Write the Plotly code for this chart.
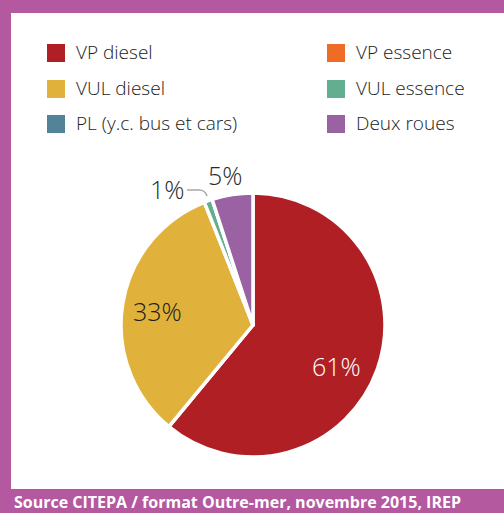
import plotly.graph_objects as go

W, H = 504, 513

labels = ["VP diesel", "VP essence", "VUL diesel", "VUL essence", "PL (y.c. bus et cars)", "Deux roues"]
values = [61, 0, 33, 1, 0, 5]
colors = ["#b01f24", "#ef6c27", "#e1b23b", "#63ad90", "#538397", "#9a62a2"]
label_colors = ["white", "white", "#1c1c1c", "#2a2a2a", "#2a2a2a", "#2a2a2a"]
# where each percentage sits (pixels from top-left), None for empty slices
label_pos = [(336, 366), None, (157, 311), (167, 189), None, (225, 175)]
source = "Source CITEPA / format Outre-mer, novembre 2015, IREP"

FRAME = "#b4589f"
FONT = "Open Sans"


def px(x):
    return x / W


def py(y):
    return 1 - y / H


fig = go.Figure()
fig.add_trace(go.Pie(
    labels=labels,
    values=values,
    sort=False,
    direction="clockwise",
    rotation=0,
    marker={"colors": colors, "line": {"color": "white", "width": 3.5}},
    textinfo="none",
    domain={"x": [px(121), px(385)], "y": [py(457), py(193)]},
    showlegend=False,
    hoverinfo="label+percent",
))

shapes = [
    # purple frame (top band, left edge, bottom band)
    {"type": "rect", "x0": 0, "x1": 1, "y0": py(13), "y1": 1},
    {"type": "rect", "x0": 0, "x1": px(11), "y0": 0, "y1": 1},
    {"type": "rect", "x0": 0, "x1": 1, "y0": 0, "y1": py(489)},
]
for s in shapes:
    s.update({"xref": "paper", "yref": "paper", "fillcolor": FRAME, "line": {"width": 0}, "layer": "below"})

annotations = []

# hand-placed legend: two columns, three rows
col_x = [47, 327]
row_y = [53, 89, 124]
for i, (lab, col) in enumerate(zip(labels, colors)):
    cx = col_x[i % 2]
    cy = row_y[i // 2]
    shapes.append({"type": "rect", "xref": "paper", "yref": "paper",
                   "x0": px(cx), "x1": px(cx + 18), "y0": py(cy + 9), "y1": py(cy - 9),
                   "fillcolor": col, "line": {"width": 0}})
    annotations.append({"x": px(cx + 27), "y": py(cy - 1), "xref": "paper", "yref": "paper",
                        "text": lab, "showarrow": False, "xanchor": "left", "yanchor": "middle",
                        "font": {"family": FONT, "size": 19, "color": "#222222", "weight": 300}})

# percentage labels
total = sum(values)
for v, pos, tc in zip(values, label_pos, label_colors):
    if not v or pos is None:
        continue
    annotations.append({"x": px(pos[0]), "y": py(pos[1]), "xref": "paper", "yref": "paper",
                        "text": f"{round(100 * v / total)}%", "showarrow": False,
                        "xanchor": "center", "yanchor": "middle",
                        "font": {"family": FONT, "size": 25, "color": tc, "weight": 300}})

# leader line for the 1% label
shapes.append({"type": "path", "xref": "paper", "yref": "paper",
               "path": f"M {px(187)},{py(190)} L {px(199)},{py(190)} Q {px(205)},{py(190)} {px(207)},{py(196)}",
               "line": {"color": "#a8a8a8", "width": 1.5}})

annotations.append({"x": px(12), "y": py(502), "xref": "paper", "yref": "paper",
                    "text": source, "showarrow": False, "xanchor": "left", "yanchor": "middle",
                    "font": {"family": FONT, "size": 16, "color": "white", "weight": 700}})

fig.update_layout(
    width=W, height=H,
    margin={"l": 0, "r": 0, "t": 0, "b": 0},
    paper_bgcolor="white",
    plot_bgcolor="white",
    shapes=shapes,
    annotations=annotations,
)

fig.write_html(
    "out.html",
    config={"displayModeBar": False},
    post_script="document.body.style.margin='0';document.body.style.overflow='hidden';",
)
